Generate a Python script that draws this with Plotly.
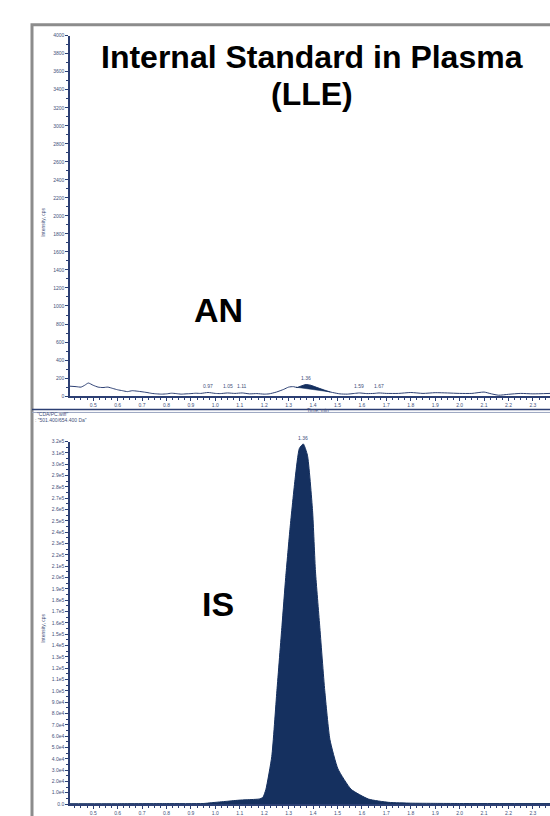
import numpy as np
import plotly.graph_objects as go

# ---------------- data ----------------
an_time = [0.405, 0.43, 0.45, 0.465, 0.48, 0.50, 0.52, 0.54, 0.56, 0.58, 0.60, 0.62, 0.64, 0.66,
           0.68, 0.70, 0.72, 0.74, 0.76, 0.78, 0.80, 0.82, 0.84, 0.86, 0.88, 0.90, 0.92, 0.94,
           0.97, 1.00, 1.02, 1.05, 1.08, 1.11, 1.14, 1.17, 1.20, 1.22, 1.25, 1.28, 1.30, 1.32,
           1.335, 1.35, 1.37, 1.39, 1.42, 1.45, 1.48, 1.51, 1.54, 1.57, 1.59, 1.62, 1.65, 1.67,
           1.70, 1.75, 1.80, 1.85, 1.90, 1.95, 2.00, 2.05, 2.10, 2.13, 2.16, 2.20, 2.25, 2.30, 2.37]
an_intensity = [110, 105, 100, 120, 145, 120, 100, 95, 100, 85, 70, 60, 50, 60,
                55, 48, 40, 30, 25, 22, 25, 32, 28, 22, 25, 28, 32, 30,
                40, 30, 28, 35, 30, 35, 25, 28, 22, 25, 45, 75, 100, 105,
                95, 110, 128, 120, 90, 60, 40, 25, 22, 30, 35, 28, 30, 35,
                30, 30, 40, 30, 38, 35, 30, 30, 45, 25, 10, 20, 30, 25, 30]
an_peak_bounds = [1.33, 1.47]
an_label_times = [0.97, 1.05, 1.11, 1.37, 1.59, 1.67]
an_label_texts = ["0.97", "1.05", "1.11", "1.36", "1.59", "1.67"]

is_time = [0.40, 0.60, 0.80, 0.95, 1.00, 1.05, 1.10, 1.15, 1.18, 1.195, 1.207, 1.231, 1.252,
           1.273, 1.288, 1.306, 1.327, 1.344, 1.36, 1.377, 1.398, 1.41, 1.427, 1.448, 1.469,
           1.502, 1.556, 1.627, 1.71, 1.80, 1.90, 2.00, 2.37]
is_intensity = [300, 300, 400, 500, 1500, 2500, 3500, 4000, 4500, 6000, 13000, 42000, 100000,
                158000, 200000, 244000, 288000, 314000, 318000, 308000, 259000, 205000, 158000,
                100000, 57000, 31000, 13000, 4400, 1500, 800, 600, 500, 400]
is_label_time = 1.36
is_label_text = "1.36"

x_tick_vals = [0.5, 0.6, 0.7, 0.8, 0.9, 1.0, 1.1, 1.2, 1.3, 1.4, 1.5, 1.6, 1.7, 1.8, 1.9,
               2.0, 2.1, 2.2, 2.3]
x_tick_text = [f"{v:.1f}" for v in x_tick_vals]
an_y_ticks = list(range(0, 4001, 200))
is_y_ticks = [i * 10000 for i in range(33)]
is_y_text = ["0.0"] + [f"{i:.1f}e4" for i in range(1, 10)] + \
            [f"{i / 10:.1f}e5" for i in range(10, 33)]

title_lines = ["Internal Standard in Plasma", "(LLE)"]
panel_labels = ["AN", "IS"]
header_lines = ["\"CDA/PC.wiff\"", ": \"501.400/654.400 Da\""]

# ---------------- styling ----------------
W, H = 550, 816
NAVY = "#15305f"
AX = "#2c3f73"
TXT = "#44507a"
FONT = "Liberation Sans, Arial, sans-serif"


def px_x(x):
    return x / W


def px_y(y):
    return 1 - y / H


xr = [0.405, 2.37]
xdom = [px_x(70), 1.0]

fig = go.Figure()

# AN trace
fig.add_trace(go.Scatter(x=an_time, y=an_intensity, mode="lines",
                         line=dict(color=AX, width=1, shape="spline", smoothing=0.6),
                         xaxis="x", yaxis="y", showlegend=False, hoverinfo="skip"))
# integrated area of AN peak
t_arr = np.array(an_time)
i_arr = np.array(an_intensity)
mask = (t_arr >= an_peak_bounds[0]) & (t_arr <= an_peak_bounds[1])
b_vals = np.interp(an_peak_bounds, t_arr, i_arr)
poly_x = [an_peak_bounds[0]] + list(t_arr[mask]) + [an_peak_bounds[1], an_peak_bounds[0]]
poly_y = [b_vals[0]] + list(i_arr[mask]) + [b_vals[1], b_vals[0]]
fig.add_trace(go.Scatter(x=poly_x, y=poly_y, mode="lines", fill="toself",
                         fillcolor=NAVY, line=dict(color=NAVY, width=0.5),
                         xaxis="x", yaxis="y", showlegend=False, hoverinfo="skip"))

# IS trace
fig.add_trace(go.Scatter(x=is_time, y=is_intensity, mode="lines", fill="tozeroy",
                         fillcolor=NAVY, line=dict(color=NAVY, width=1, shape="spline", smoothing=0.5),
                         xaxis="x2", yaxis="y2", showlegend=False, hoverinfo="skip"))

tickfont = dict(family=FONT, size=5, color=TXT)
xcommon = dict(range=xr, domain=xdom, tickvals=x_tick_vals, ticktext=x_tick_text,
               ticks="outside", ticklen=3, tickwidth=1, tickcolor=AX,
               showline=True, linecolor=AX, linewidth=1.5, showgrid=False, zeroline=False,
               tickfont=tickfont, fixedrange=True,
               minor=dict(ticks="outside", ticklen=2, tickcolor=AX, dtick=0.025, tick0=0.5))
ycommon = dict(ticks="outside", ticklen=3, tickwidth=1, tickcolor=AX, showline=True,
               linecolor=AX, linewidth=1.5, showgrid=False, zeroline=False,
               tickfont=tickfont, fixedrange=True)

fig.update_layout(
    width=W, height=H, autosize=False,
    margin=dict(l=0, r=0, t=0, b=0),
    paper_bgcolor="white", plot_bgcolor="white",
    xaxis=dict(**xcommon, anchor="y"),
    yaxis=dict(**ycommon, domain=[px_y(397), px_y(33)], range=[0, 4000],
               tickvals=an_y_ticks, ticktext=[str(v) for v in an_y_ticks], anchor="x",
               minor=dict(ticks="outside", ticklen=2, tickcolor=AX, dtick=100)),
    xaxis2=dict(**xcommon, anchor="y2"),
    yaxis2=dict(**ycommon, domain=[px_y(809), px_y(443)], range=[0, 320000],
                tickvals=is_y_ticks, ticktext=is_y_text, anchor="x2",
                minor=dict(ticks="outside", ticklen=2, tickcolor=AX, dtick=5000)),
)


def pann(text, x, y, size, color="black", xanchor="center", yanchor="middle", angle=0):
    return dict(text=text, x=px_x(x), y=px_y(y), xref="paper", yref="paper",
                xanchor=xanchor, yanchor=yanchor, showarrow=False, textangle=angle,
                font=dict(family=FONT, size=size, color=color))


ann = []
# big titles
ann.append(pann(f"<b>{title_lines[0]}</b>", 312, 55, 32))
ann.append(pann(f"<b>{title_lines[1]}</b>", 312, 92, 32))
ann.append(pann(f"<b>{panel_labels[0]}</b>", 218, 310, 34))
ann.append(pann(f"<b>{panel_labels[1]}</b>", 218, 607, 34))
# axis titles
for yy in (222, 632):
    ann.append(pann("Intensity, cps", 43, yy, 5, TXT, angle=-90))
ann.append(pann("Time, min", 305, 405.5, 5, TXT, xanchor="left", yanchor="top"))
# header of lower panel
ann.append(pann(header_lines[0], 35, 415, 5, TXT, xanchor="left"))
ann.append(pann(header_lines[1], 33, 421, 5, TXT, xanchor="left"))
# peak labels
an_label_y = np.interp(an_label_times, an_time, an_intensity)
for t, v, s in zip(an_label_times, an_label_y, an_label_texts):
    ann.append(dict(text=s, x=t, y=v, xref="x", yref="y", yanchor="bottom", yshift=2,
                    showarrow=False, font=dict(family=FONT, size=5, color=TXT)))
ann.append(dict(text=is_label_text, x=is_label_time, y=max(is_intensity), xref="x2", yref="y2",
                yanchor="bottom", yshift=1, showarrow=False,
                font=dict(family=FONT, size=5, color=TXT)))
fig.update_layout(annotations=ann)

# frame
shapes = [
    dict(type="rect", xref="paper", yref="paper", x0=px_x(32), x1=1.2, y0=-0.2, y1=px_y(22),
         line=dict(color="#8c8c8c", width=3), fillcolor="rgba(0,0,0,0)", layer="below"),
    dict(type="line", xref="paper", yref="paper", x0=px_x(32), x1=1.0, y0=px_y(410.5), y1=px_y(410.5),
         line=dict(color=AX, width=1.5)),
    dict(type="line", xref="paper", yref="paper", x0=px_x(32), x1=1.0, y0=px_y(413.5), y1=px_y(413.5),
         line=dict(color="#9aa4c0", width=1)),
]
fig.update_layout(shapes=shapes)

fig.write_html("out.html", config={"displayModeBar": False},
               post_script="document.body.style.margin='0';document.body.style.padding='0';"
                           "document.body.style.overflow='hidden';"
                           "document.documentElement.style.overflow='hidden';")
